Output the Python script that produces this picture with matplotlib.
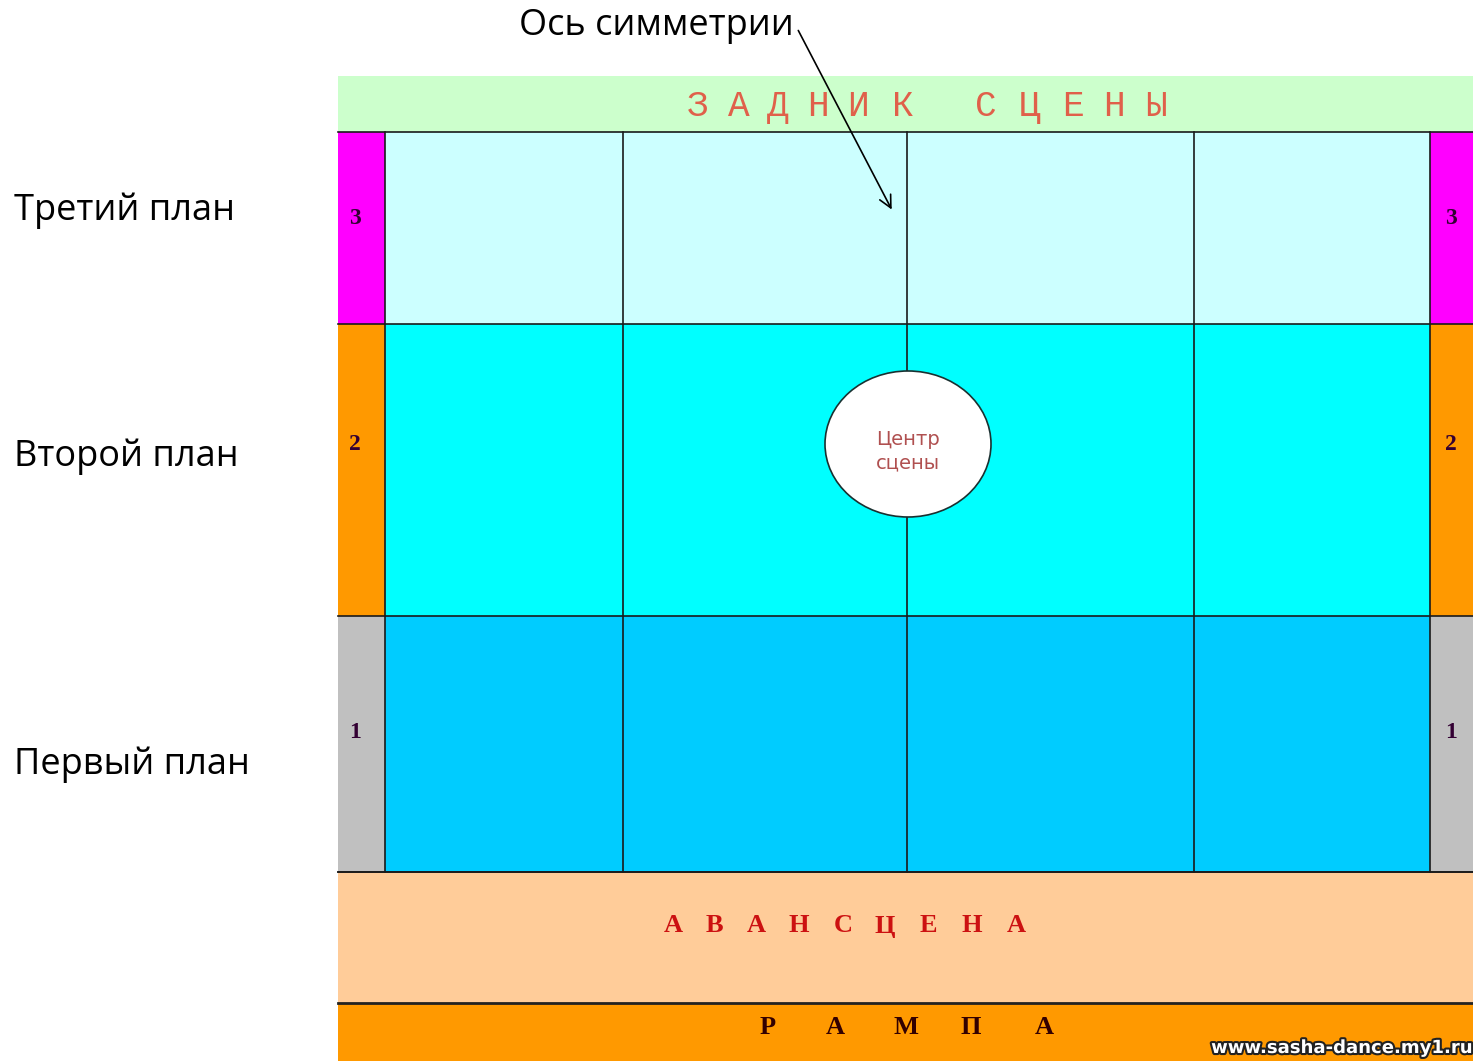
import matplotlib
matplotlib.use("Agg")
import matplotlib.pyplot as plt
from matplotlib.patches import Rectangle, Ellipse
import matplotlib.patheffects as pe

# plans of the stage, from back to front
plan_labels = ["Третий план", "Второй план", "Первый план"]
plan_numbers = ["3", "2", "1"]
cell_colors = ["#CCFFFF", "#00FFFF", "#00CCFF"]
side_colors = ["#FF00FF", "#FF9900", "#C0C0C0"]
row_edges = [132, 324, 616, 872]
col_edges = [385, 623, 907, 1194, 1430]

back_letters = list("ЗАДНИК") + list("СЦЕНЫ")
back_x = [698, 739, 778, 818, 858, 903, 986, 1030, 1073, 1114, 1156]
front_letters = list("АВАНСЦЕНА")
front_x = [673, 714, 756, 799, 843, 885, 928, 972, 1016]
ramp_letters = list("РАМПА")
ramp_x = [768, 835, 906, 971, 1044]
center_text = "Центр\nсцены"
axis_text = "Ось симметрии"
site_text = "www.sasha-dance.my1.ru"

W, H = 1473, 1061
fig = plt.figure(figsize=(W / 100, H / 100), dpi=100)
ax = fig.add_axes([0, 0, 1, 1])
ax.set_xlim(0, W)
ax.set_ylim(H, 0)
ax.axis("off")

left, right = 338, W
lw = 1.2

# back wall band
ax.add_patch(Rectangle((left, 76), right - left, 132 - 76, fc="#CCFFCC", ec="none"))
for ch, x in zip(back_letters, back_x):
    ax.text(x, 107, ch, ha="center", va="center", family="Liberation Mono",
            fontsize=26, color="#E0604A")

# three plans
for i in range(3):
    y0, y1 = row_edges[i], row_edges[i + 1]
    ax.add_patch(Rectangle((col_edges[0], y0), col_edges[-1] - col_edges[0], y1 - y0,
                           fc=cell_colors[i], ec="none"))
    ax.add_patch(Rectangle((left, y0), col_edges[0] - left, y1 - y0, fc=side_colors[i], ec="none"))
    ax.add_patch(Rectangle((col_edges[-1], y0), right - col_edges[-1], y1 - y0,
                           fc=side_colors[i], ec="none"))
    ny = [219, 444, 733][i]
    for nx in (355, 1451):
        ax.text(nx, ny, plan_numbers[i], ha="center", va="center", family="Liberation Serif",
                fontweight="bold", fontsize=17, color="#330033")
    ax.text(14, [211, 457, 765][i], plan_labels[i], ha="left", va="center",
            family="Open Sans", fontsize=26, color="black")

# grid lines
for y in row_edges:
    ax.plot([left, right], [y, y], color="#1a1a1a", lw=lw)
for x in col_edges:
    ax.plot([x, x], [row_edges[0], row_edges[-1]], color="#1a1a1a", lw=lw)

# proscenium and ramp
ax.add_patch(Rectangle((left, 872), right - left, 1003 - 872, fc="#FFCC99", ec="none"))
ax.add_patch(Rectangle((left, 1003), right - left, H - 1003, fc="#FF9900", ec="none"))
ax.plot([left, right], [872, 872], color="#1a1a1a", lw=lw)
ax.plot([left, right], [1003, 1003], color="#222222", lw=2)
for ch, x in zip(front_letters, front_x):
    ax.text(x, 926, ch, ha="center", va="center", family="Liberation Serif",
            fontweight="bold", fontsize=19, color="#CC1111")
for ch, x in zip(ramp_letters, ramp_x):
    ax.text(x, 1027, ch, ha="center", va="center", family="Liberation Serif",
            fontweight="bold", fontsize=19, color="#330000")
ax.text(1471, 1048, site_text, ha="right", va="center", family="DejaVu Sans Condensed",
        fontweight="bold", fontsize=13, color="white",
        path_effects=[pe.withStroke(linewidth=3, foreground="#222222")])

# centre of the stage
ax.add_patch(Ellipse((908, 444), 166, 146, fc="white", ec="#1a3030", lw=1.2, zorder=3))
ax.text(908, 451, center_text, ha="center", va="center", family="DejaVu Sans",
        fontsize=14, color="#B05050", linespacing=1.3, zorder=4)

# axis of symmetry
ax.text(656, 26, axis_text, ha="center", va="center", family="Open Sans",
        fontsize=26, color="black")
ax.annotate("", xy=(893, 212), xytext=(797, 28),
            arrowprops=dict(arrowstyle="->", color="black", lw=1.2, mutation_scale=22))

fig.savefig("out.png", dpi=100)
